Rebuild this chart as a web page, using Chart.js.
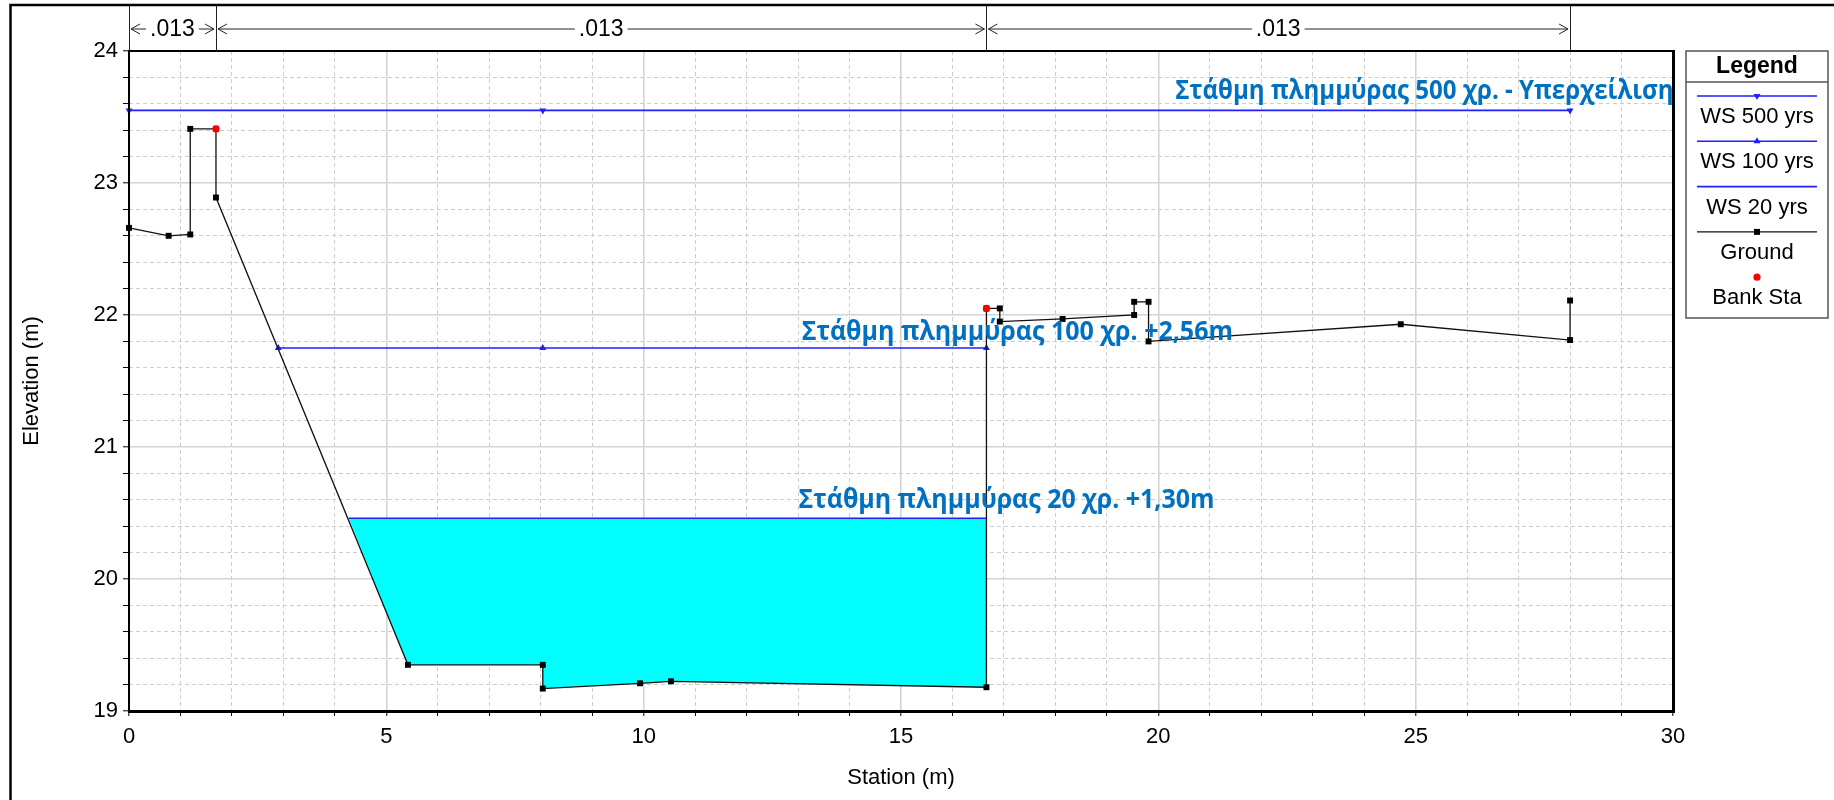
<!DOCTYPE html>
<html>
<head>
<meta charset="utf-8">
<title>Cross section</title>
<script src="https://cdn.jsdelivr.net/npm/chart.js@4.4.1/dist/chart.umd.min.js"></script>
<style>
  body { margin: 0; background: #fff; }
  #wrap { width: 1834px; height: 800px; }
</style>
</head>
<body>
<div id="wrap"><canvas id="chart" width="1834" height="800"></canvas></div>
<script>
// station (m) / elevation (m)
const groundX = [0, 0.77, 1.19, 1.19, 1.69, 1.69, 5.42, 8.04, 8.04, 9.93, 10.53, 16.66, 16.66, 16.92, 16.92, 18.14, 19.53, 19.53, 19.81, 19.81, 24.71, 28.0, 28.0];
const groundY = [22.66, 22.60, 22.61, 23.41, 23.41, 22.89, 19.35, 19.35, 19.17, 19.21, 19.225, 19.18, 22.05, 22.05, 21.95, 21.97, 22.00, 22.10, 22.10, 21.80, 21.93, 21.81, 22.11];

const bankX = [1.69, 16.66];
const bankY = [23.41, 22.05];

const ws500X = [0, 8.04, 28.0];
const ws500 = 23.55;
const ws100X = [2.90, 8.04, 16.66];
const ws100 = 21.75;
const ws20X = [4.27, 16.66];
const ws20 = 20.46;

// manning n strips along the top
const mannX = [0, 1.69, 16.66, 28.0];
const mannN = [".013", ".013", ".013"];

// blue notes: text, start / end station, baseline elevation
const noteText = [
  "Στάθμη πλημμύρας 500 χρ. - Υπερχείλιση",
  "Στάθμη πλημμύρας 100 χρ. +2,56m",
  "Στάθμη πλημμύρας 20 χρ. +1,30m"
];
const noteX0 = [20.33, 13.07, 13.01];
const noteX1 = [30.01, 21.45, 21.09];
const noteY = [23.64, 21.81, 20.535];

const xLabelEvery = 5;

const pts = (xs, ys) => xs.map((x, i) => ({ x: x, y: Array.isArray(ys) ? ys[i] : ys }));

// water area under the 20 yrs level
const water = [{ x: ws20X[0], y: ws20 }];
groundX.forEach((x, i) => {
  if (x > ws20X[0] && x <= ws20X[1] && groundY[i] < ws20) water.push({ x: x, y: groundY[i] });
});
water.push({ x: ws20X[1], y: ws20 });

Chart.defaults.font.family = '"Liberation Sans", Arial, sans-serif';
Chart.defaults.color = "#000";

const isInt = v => Math.abs(v - Math.round(v)) < 1e-6;

const annotations = {
  id: "annotations",
  afterDatasetsDraw(chart) {
    const { ctx, scales: { x, y }, chartArea: a } = chart;
    ctx.save();
    ctx.fillStyle = "#0070c0";
    ctx.font = 'bold 26px "Open Sans"';
    ctx.textBaseline = "alphabetic";
    noteText.forEach((t, i) => {
      const x0 = x.getPixelForValue(noteX0[i]);
      const x1 = x.getPixelForValue(noteX1[i]);
      const w = ctx.measureText(t).width;
      ctx.save();
      ctx.translate(x0, y.getPixelForValue(noteY[i]));
      ctx.scale((x1 - x0) / w, 1);
      ctx.fillText(t, 0, 0);
      ctx.restore();
    });
    // plot frame
    ctx.strokeStyle = "#000";
    ctx.lineWidth = 2;
    ctx.strokeRect(a.left, a.top, a.right - a.left, a.bottom - a.top);
    ctx.lineWidth = 3;
    ctx.beginPath();
    ctx.moveTo(a.left - 1, a.bottom + 0.5);
    ctx.lineTo(a.right + 0.5, a.bottom + 0.5);
    ctx.lineTo(a.right + 0.5, a.top - 1);
    ctx.stroke();
    ctx.restore();
  },
  afterDraw(chart) {
    const { ctx, scales: { x }, chartArea: a } = chart;
    ctx.save();
    // outer frame
    ctx.strokeStyle = "#000";
    ctx.lineWidth = 2.5;
    ctx.beginPath();
    ctx.moveTo(1834, 5);
    ctx.lineTo(10.5, 5);
    ctx.lineTo(10.5, 800);
    ctx.stroke();

    // manning n row
    const yr = 29;
    ctx.lineWidth = 1;
    ctx.strokeStyle = "#222";
    ctx.fillStyle = "#000";
    ctx.font = '23px "Liberation Sans"';
    ctx.textAlign = "center";
    ctx.textBaseline = "middle";
    mannX.forEach(v => {
      const px = Math.round(x.getPixelForValue(v)) + 0.5;
      ctx.beginPath();
      ctx.moveTo(px, 6);
      ctx.lineTo(px, a.top);
      ctx.stroke();
    });
    mannN.forEach((n, i) => {
      const x1 = x.getPixelForValue(mannX[i]) + 2;
      const x2 = x.getPixelForValue(mannX[i + 1]) - 2;
      const mid = (x1 + x2) / 2;
      const tw = ctx.measureText(n).width;
      ctx.fillText(n, mid, yr + 1);
      ctx.beginPath();
      ctx.moveTo(x1 + 9, yr - 5); ctx.lineTo(x1, yr); ctx.lineTo(x1 + 9, yr + 5);
      ctx.moveTo(x2 - 9, yr - 5); ctx.lineTo(x2, yr); ctx.lineTo(x2 - 9, yr + 5);
      if (mid - tw / 2 - 4 > x1 + 4) {
        ctx.moveTo(x1, yr); ctx.lineTo(mid - tw / 2 - 4, yr);
        ctx.moveTo(mid + tw / 2 + 4, yr); ctx.lineTo(x2, yr);
      }
      ctx.stroke();
    });

    // legend box
    const lx = 1686, ly = 51, lw = 142, lh = 267;
    ctx.strokeStyle = "#555";
    ctx.lineWidth = 1.5;
    ctx.strokeRect(lx, ly, lw, lh);
    ctx.beginPath();
    ctx.moveTo(lx, 82); ctx.lineTo(lx + lw, 82);
    ctx.stroke();
    ctx.font = 'bold 23px "Liberation Sans"';
    ctx.fillText("Legend", lx + lw / 2, 67);
    ctx.font = '22px "Liberation Sans"';
    const items = chart.data.datasets.filter(d => d.label !== "water");
    const cx = lx + lw / 2;
    items.forEach((d, i) => {
      const sy = 96 + i * 45.3;
      if (d.showLine !== false) {
        ctx.strokeStyle = d.borderColor;
        ctx.lineWidth = d.borderWidth;
        ctx.beginPath();
        ctx.moveTo(lx + 11, sy); ctx.lineTo(lx + lw - 11, sy);
        ctx.stroke();
      }
      if (d.pointRadius > 0) {
        ctx.fillStyle = d.pointBackgroundColor;
        ctx.beginPath();
        const r = d.pointRadius;
        if (d.pointStyle === "rect") {
          ctx.rect(cx - r * 0.71, sy - r * 0.71, r * 1.42, r * 1.42);
        } else if (d.pointStyle === "triangle") {
          const s = d.rotation === 180 ? -1 : 1;
          ctx.moveTo(cx, sy - s * r);
          ctx.lineTo(cx - r * 0.87, sy + s * r * 0.5);
          ctx.lineTo(cx + r * 0.87, sy + s * r * 0.5);
          ctx.closePath();
        } else {
          ctx.arc(cx, sy, r, 0, Math.PI * 2);
        }
        ctx.fill();
      }
      ctx.fillStyle = "#000";
      ctx.fillText(d.label, cx, sy + 21);
    });
    ctx.restore();
  }
};

const gridColor = major => major ? "#d4d4d4" : "#cdcdcd";

new Chart(document.getElementById("chart"), {
  type: "scatter",
  data: {
    datasets: [
      {
        label: "WS 500 yrs",
        data: pts(ws500X, ws500),
        showLine: true,
        borderColor: "#1f1fff",
        borderWidth: 1.6,
        pointStyle: "triangle",
        rotation: 180,
        pointRadius: 4,
        pointBackgroundColor: "#1f1fff",
        pointBorderWidth: 0,
        order: 5,
        clip: 8
      },
      {
        label: "WS 100 yrs",
        data: pts(ws100X, ws100),
        showLine: true,
        borderColor: "#1f1fff",
        borderWidth: 1.6,
        pointStyle: "triangle",
        rotation: 0,
        pointRadius: 4,
        pointBackgroundColor: "#1f1fff",
        pointBorderWidth: 0,
        order: 5,
        clip: 8
      },
      {
        label: "WS 20 yrs",
        data: pts(ws20X, ws20),
        showLine: true,
        borderColor: "#1f1fff",
        borderWidth: 1.6,
        pointRadius: 0,
        order: 4
      },
      {
        label: "Ground",
        data: pts(groundX, groundY),
        showLine: true,
        borderColor: "#111",
        borderWidth: 1.3,
        pointStyle: "rect",
        pointRadius: 4.2,
        pointBackgroundColor: "#000",
        pointBorderWidth: 0,
        order: 3,
        clip: 8
      },
      {
        label: "Bank Sta",
        data: pts(bankX, bankY),
        showLine: false,
        pointStyle: "circle",
        pointRadius: 3.6,
        pointBackgroundColor: "#ff0000",
        pointBorderWidth: 0,
        order: 1,
        clip: 8
      },
      {
        label: "water",
        data: water,
        showLine: true,
        fill: "shape",
        backgroundColor: "#00ffff",
        borderColor: "rgba(0,0,0,0)",
        borderWidth: 0,
        pointRadius: 0,
        order: 10
      }
    ]
  },
  options: {
    responsive: false,
    animation: false,
    devicePixelRatio: 1,
    layout: { padding: { left: 11, top: 51, right: 161, bottom: 0 } },
    plugins: { legend: { display: false }, tooltip: { enabled: false } },
    elements: { line: { tension: 0 } },
    scales: {
      x: {
        type: "linear",
        min: 0,
        max: 30,
        afterFit: s => { s.height = 89; },
        ticks: {
          stepSize: 1,
          autoSkip: false,
          maxTicksLimit: 100,
          maxRotation: 0,
          padding: 8,
          font: { size: 22 },
          callback: v => (isInt(v) && Math.round(v) % xLabelEvery === 0) ? Math.round(v) : ""
        },
        grid: {
          color: c => gridColor(c.tick && Math.round(c.tick.value) % 5 === 0),
          lineWidth: c => (c.tick && Math.round(c.tick.value) % 5 === 0) ? 1.6 : 1,
          borderDash: c => (c.tick && Math.round(c.tick.value) % 5 === 0) ? [] : [4, 3],
          tickColor: "#000",
          tickLength: 5,
          tickWidth: 1,
          tickBorderDash: []
        },
        border: {
          display: false,
          dash: c => (c.tick && Math.round(c.tick.value) % 5 !== 0) ? [4, 3] : []
        },
        title: {
          display: true,
          text: "Station (m)",
          font: { size: 22 },
          padding: { top: 0, bottom: 9 }
        }
      },
      y: {
        type: "linear",
        min: 19,
        max: 24,
        afterFit: s => { s.width = 118; },
        ticks: {
          stepSize: 0.2,
          autoSkip: false,
          maxTicksLimit: 100,
          padding: 5,
          font: { size: 22 },
          callback: v => isInt(v) ? Math.round(v) : ""
        },
        grid: {
          color: c => gridColor(c.tick && isInt(c.tick.value)),
          lineWidth: c => (c.tick && isInt(c.tick.value)) ? 1.6 : 1,
          borderDash: c => (c.tick && isInt(c.tick.value)) ? [] : [4, 3],
          tickColor: "#000",
          tickLength: 6,
          tickWidth: 1,
          tickBorderDash: []
        },
        border: {
          display: false,
          dash: c => (c.tick && !isInt(c.tick.value)) ? [4, 3] : []
        },
        title: {
          display: true,
          text: "Elevation (m)",
          font: { size: 22 },
          padding: { top: 8, bottom: 0 }
        }
      }
    }
  },
  plugins: [annotations]
});
</script>
</body>
</html>
